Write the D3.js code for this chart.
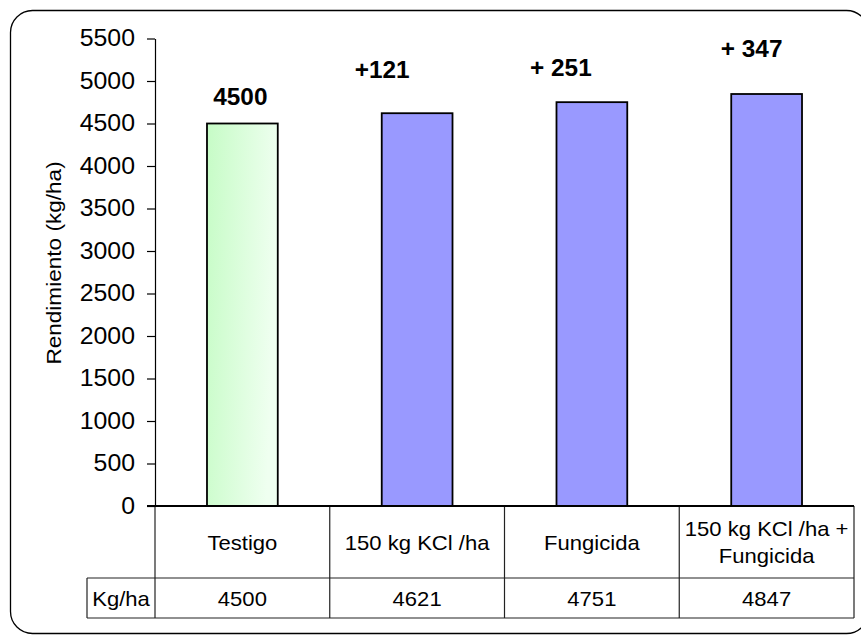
<!DOCTYPE html>
<html>
<head>
<meta charset="utf-8">
<script src="https://cdn.jsdelivr.net/npm/d3@7/dist/d3.min.js"></script>
<style>
  html, body { margin: 0; padding: 0; background: #fff; }
  svg { display: block; font-family: "Liberation Sans", Arial, sans-serif; }
</style>
</head>
<body>
<svg id="chart" width="861" height="635"></svg>
<script>
// Treatments and yields (kg/ha)
const categories = ["Testigo", "150 kg KCl /ha", "Fungicida", "150 kg KCl /ha + Fungicida"];
const yields = [4500, 4621, 4751, 4847];
// Increment labels: first bar shows its own value, others the gain over the control
const labelPrefix = ["", "+", "+ ", "+ "];
const yTicks = [0, 500, 1000, 1500, 2000, 2500, 3000, 3500, 4000, 4500, 5000, 5500];
const rowLabel = "Kg/ha";
const yTitle = "Rendimiento (kg/ha)";

// Label placement tweaks (px, relative to bar centre / bar top)
const labelDx = [-2, -35, -31, -15];
const labelDy = [-19, -35, -26, -37];

const FONT = "'Liberation Sans', Arial, sans-serif";
const svg = d3.select("#chart");

// Slightly widen glyphs, keeping the anchor
function widen(sel, f) {
  sel.each(function () {
    const n = this;
    const w = n.getComputedTextLength();
    if (w > 0) {
      d3.select(n).attr("textLength", w * f).attr("lengthAdjust", "spacingAndGlyphs");
    }
  });
}

const plot = { left: 155, right: 854, top: 38.5, bottom: 506 };
const rowCatBottom = 578, rowValBottom = 618, rowLabelLeft = 87;

const y = d3.scaleLinear().domain([0, 5500]).range([plot.bottom, plot.top]);
const x = d3.scaleBand().domain(categories).range([plot.left, plot.right]).padding(0);
const barW = x.bandwidth() * 0.405;

// Outer frame
svg.append("rect")
  .attr("x", 10.5).attr("y", 10.5)
  .attr("width", 858).attr("height", 623)
  .attr("rx", 22).attr("ry", 22)
  .attr("fill", "none").attr("stroke", "#000").attr("stroke-width", 1.3);

// Gradient for the control bar
const defs = svg.append("defs");
const grad = defs.append("linearGradient").attr("id", "ctrlGrad")
  .attr("x1", "0%").attr("y1", "0%").attr("x2", "100%").attr("y2", "20%");
grad.append("stop").attr("offset", "0%").attr("stop-color", "#c6fcc6");
grad.append("stop").attr("offset", "100%").attr("stop-color", "#effff0");

// Y axis
const yAxis = d3.axisLeft(y).tickValues(yTicks).tickSize(8).tickSizeOuter(0).tickPadding(12)
  .tickFormat(d3.format("d"));
const gy = svg.append("g").attr("transform", `translate(${plot.left},0)`).call(yAxis);
gy.attr("font-family", FONT).attr("font-size", 23);
gy.select(".domain").attr("stroke", "#000").attr("stroke-width", 1.2);
gy.selectAll(".tick line").attr("stroke", "#000").attr("stroke-width", 1.2);
gy.selectAll(".tick text").attr("fill", "#000");
widen(gy.selectAll(".tick text"), 1.08);

// Y axis title
const title = svg.append("text")
  .attr("transform", `translate(53,263) rotate(-90)`)
  .attr("text-anchor", "middle")
  .attr("dominant-baseline", "central")
  .style("font-size", "21px")
  .text(yTitle);
widen(title, 1.075);

// Bars
svg.selectAll("rect.bar")
  .data(categories)
  .join("rect")
  .attr("class", "bar")
  .attr("x", d => x(d) + (x.bandwidth() - barW) / 2)
  .attr("y", (d, i) => y(yields[i]))
  .attr("width", barW)
  .attr("height", (d, i) => y(0) - y(yields[i]))
  .attr("fill", (d, i) => i === 0 ? "url(#ctrlGrad)" : "#9999ff")
  .attr("stroke", "#000")
  .attr("stroke-width", 1.8);

// Value / increment labels
const vlabels = svg.selectAll("text.vlabel")
  .data(categories)
  .join("text")
  .attr("class", "vlabel")
  .attr("x", (d, i) => x(d) + x.bandwidth() / 2 + labelDx[i])
  .attr("y", (d, i) => y(yields[i]) + labelDy[i])
  .attr("text-anchor", "middle")
  .style("font-size", "23px")
  .style("font-weight", "bold")
  .text((d, i) => i === 0 ? String(yields[0]) : labelPrefix[i] + (yields[i] - yields[0]));
widen(vlabels, 1.06);

// Data table
const table = svg.append("g").attr("stroke", "#222").attr("stroke-width", 1.2);
table.append("line").attr("x1", rowLabelLeft).attr("x2", plot.right)
  .attr("y1", rowCatBottom).attr("y2", rowCatBottom);
table.append("line").attr("x1", rowLabelLeft).attr("x2", plot.right)
  .attr("y1", rowValBottom).attr("y2", rowValBottom);
const colEdges = categories.map(c => x(c)).concat([plot.right]);
table.selectAll("line.v")
  .data(colEdges)
  .join("line")
  .attr("class", "v")
  .attr("x1", d => d).attr("x2", d => d)
  .attr("y1", plot.bottom).attr("y2", rowValBottom);
table.append("line").attr("x1", rowLabelLeft).attr("x2", rowLabelLeft)
  .attr("y1", rowCatBottom).attr("y2", rowValBottom);

// Baseline (zero line) across the table top
svg.append("line")
  .attr("x1", plot.left - 8).attr("x2", plot.right)
  .attr("y1", y(0)).attr("y2", y(0))
  .attr("stroke", "#000").attr("stroke-width", 1.8);

// Category names, wrapped inside their cells
const catG = svg.append("g");
categories.forEach((c, i) => {
  const cx = x(c) + x.bandwidth() / 2;
  const maxW = x.bandwidth() - 4;
  const words = c.split(" ");
  const lines = [];
  let line = [];
  const probe = catG.append("text").style("font-size", "21px");
  words.forEach(w => {
    const test = line.concat([w]).join(" ");
    probe.text(test);
    if (probe.node().getComputedTextLength() * 1.05 > maxW && line.length) {
      lines.push(line.join(" "));
      line = [w];
    } else {
      line.push(w);
    }
  });
  lines.push(line.join(" "));
  probe.remove();
  const lh = 27;
  const cy = (plot.bottom + rowCatBottom) / 2;
  lines.forEach((l, k) => {
    const t = catG.append("text")
      .attr("x", cx)
      .attr("y", cy + (k - (lines.length - 1) / 2) * lh)
      .attr("text-anchor", "middle")
      .attr("dominant-baseline", "central")
      .style("font-size", "21px")
      .text(l);
    widen(t, 1.05);
  });
});

// Values row
const tvals = svg.selectAll("text.tval")
  .data(categories)
  .join("text")
  .attr("class", "tval")
  .attr("x", d => x(d) + x.bandwidth() / 2)
  .attr("y", (rowCatBottom + rowValBottom) / 2)
  .attr("text-anchor", "middle")
  .attr("dominant-baseline", "central")
  .style("font-size", "21px")
  .text((d, i) => yields[i]);
widen(tvals, 1.05);

const rl = svg.append("text")
  .attr("x", (rowLabelLeft + plot.left) / 2)
  .attr("y", (rowCatBottom + rowValBottom) / 2)
  .attr("text-anchor", "middle")
  .attr("dominant-baseline", "central")
  .style("font-size", "21px")
  .text(rowLabel);
widen(rl, 1.05);
</script>
</body>
</html>
